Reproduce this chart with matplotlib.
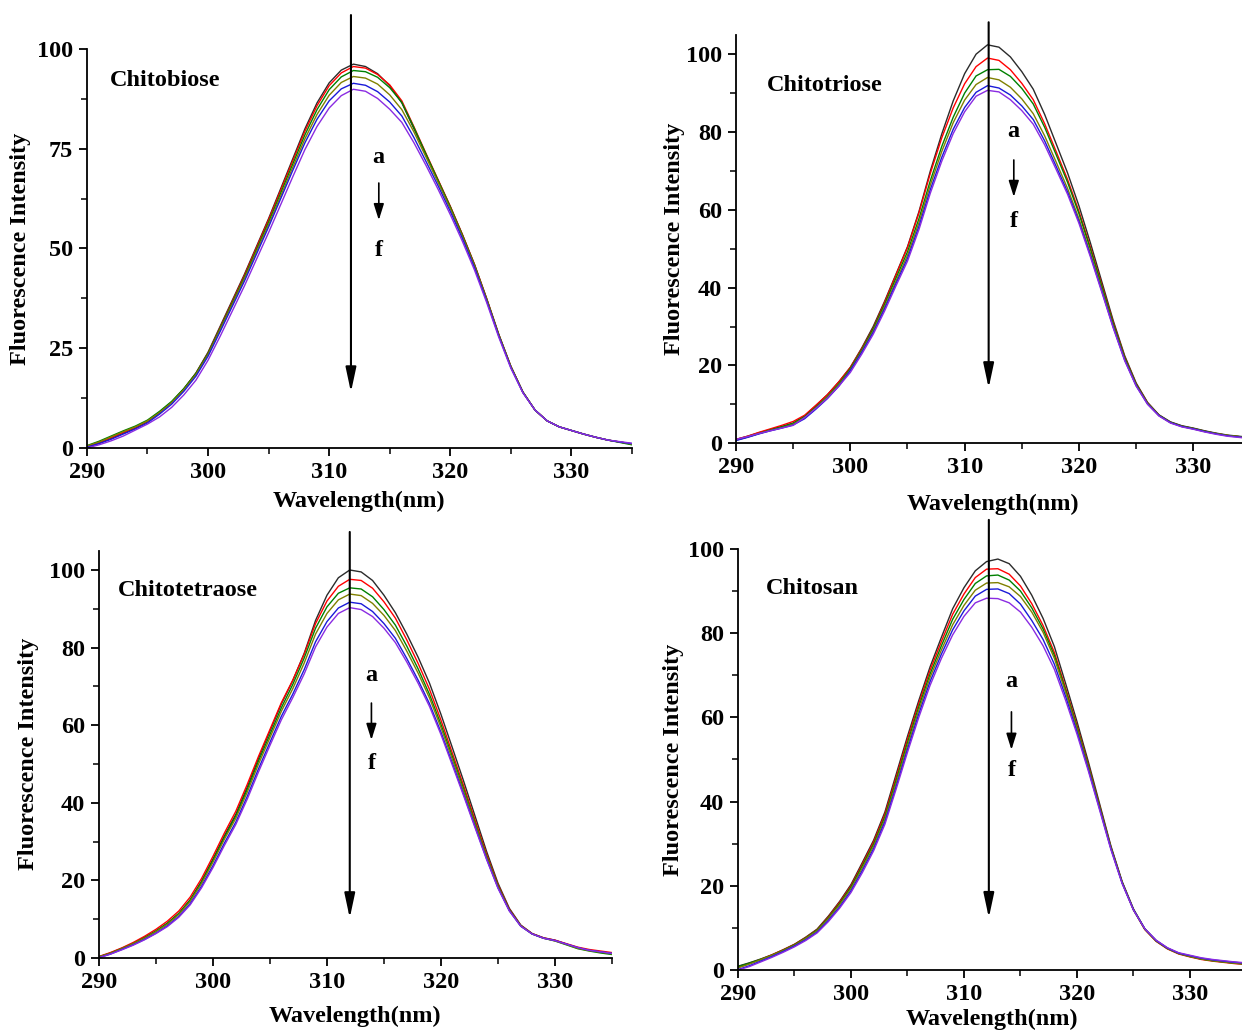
import matplotlib
matplotlib.use("Agg")
import matplotlib.pyplot as plt
from matplotlib.ticker import MultipleLocator

plt.rcParams['font.family'] = ['Liberation Serif', 'DejaVu Serif']
plt.rcParams['font.weight'] = 'bold'

# wavelength grid (nm), one reading per nm
wavelength = list(range(290, 336))

# --- Chitobiose, curves a..f ---
biose_a = [0.3, 1.2, 2.4, 3.7, 5.0, 6.6, 8.8, 11.5, 14.8, 18.8, 24.0, 30.5, 37.0, 43.5, 50.5, 57.5,
           65.0, 72.5, 80.0, 86.5, 91.5, 94.7, 96.2, 95.6, 93.8, 90.8, 86.5, 80.0, 73.5, 67.0, 60.5,
           53.5, 46.0, 37.5, 28.5, 20.5, 14.0, 9.5, 6.8, 5.3, 4.4, 3.5, 2.7, 2.0, 1.5, 1.0]
biose_b = [0.4, 1.4, 2.6, 3.9, 5.2, 6.8, 9.0, 11.5, 14.8, 18.7, 23.8, 30.2, 36.7, 43.2, 50.2, 57.2,
           64.6, 72.0, 79.4, 85.8, 90.8, 94.0, 95.6, 95.2, 93.6, 91.0, 87.0, 80.5, 73.8, 67.2, 60.6,
           53.5, 46.0, 37.5, 28.5, 20.5, 14.0, 9.5, 6.8, 5.3, 4.4, 3.5, 2.7, 2.0, 1.5, 1.0]
biose_c = [0.6, 1.7, 3.0, 4.3, 5.5, 7.0, 9.2, 11.7, 14.9, 18.7, 23.7, 30.0, 36.4, 42.8, 49.7, 56.6,
           63.9, 71.2, 78.5, 84.8, 89.8, 93.0, 94.6, 94.3, 92.9, 90.3, 86.6, 80.3, 73.6, 67.0, 60.4,
           53.3, 45.8, 37.3, 28.4, 20.4, 14.0, 9.5, 6.8, 5.3, 4.4, 3.5, 2.7, 2.0, 1.4, 0.8]
biose_d = [0.5, 1.5, 2.8, 4.1, 5.3, 6.8, 8.9, 11.4, 14.6, 18.4, 23.4, 29.7, 36.0, 42.4, 49.2, 56.0,
           63.2, 70.4, 77.5, 83.6, 88.4, 91.6, 93.1, 92.7, 91.2, 88.5, 84.8, 79.2, 72.9, 66.5, 60.0,
           53.0, 45.6, 37.2, 28.3, 20.4, 14.0, 9.5, 6.8, 5.3, 4.4, 3.5, 2.7, 2.0, 1.5, 1.0]
biose_e = [0.2, 1.1, 2.2, 3.5, 4.8, 6.3, 8.5, 11.0, 14.2, 18.0, 23.0, 29.2, 35.5, 41.8, 48.6, 55.4,
           62.5, 69.6, 76.5, 82.4, 87.0, 90.0, 91.4, 90.9, 89.3, 86.7, 83.2, 77.8, 71.8, 65.7, 59.3,
           52.5, 45.2, 36.9, 28.1, 20.2, 13.9, 9.5, 6.8, 5.3, 4.4, 3.5, 2.7, 2.0, 1.5, 1.1]
biose_f = [0.0, 0.8, 1.8, 3.0, 4.5, 6.0, 7.8, 10.2, 13.3, 17.0, 22.0, 28.0, 34.3, 40.6, 47.3, 54.0,
           61.0, 68.0, 74.8, 80.6, 85.2, 88.3, 89.9, 89.4, 87.6, 84.9, 81.6, 76.5, 70.8, 64.8, 58.5,
           51.8, 44.6, 36.5, 27.8, 20.0, 13.8, 9.5, 6.8, 5.3, 4.4, 3.5, 2.7, 2.0, 1.6, 1.2]

# --- Chitotriose ---
triose_a = [1.0, 1.8, 2.7, 3.5, 4.3, 5.2, 7.0, 9.7, 12.5, 15.8, 19.5, 24.5, 30.0, 36.5, 43.5, 50.5,
            59.5, 70.0, 79.5, 88.0, 95.0, 100.0, 102.4, 101.8, 99.3, 95.5, 91.0, 84.5, 77.0, 69.5,
            61.0, 51.5, 41.5, 31.5, 22.5, 15.5, 10.5, 7.3, 5.5, 4.5, 3.9, 3.2, 2.6, 2.1, 1.8, 1.5]
triose_b = [1.0, 1.8, 2.8, 3.7, 4.6, 5.6, 7.2, 9.8, 12.5, 15.8, 19.5, 24.3, 29.6, 36.2, 43.3, 50.3,
            59.2, 69.4, 78.5, 86.2, 92.4, 96.8, 99.0, 98.4, 96.0, 92.5, 88.3, 82.1, 75.0, 67.8,
            59.6, 50.4, 40.7, 31.0, 22.2, 15.3, 10.4, 7.2, 5.4, 4.4, 3.8, 3.1, 2.5, 2.0, 1.7, 1.4]
triose_c = [0.8, 1.6, 2.5, 3.4, 4.2, 5.1, 6.8, 9.3, 12.0, 15.3, 19.2, 24.0, 29.4, 35.7, 42.5, 49.2,
            57.7, 67.5, 76.3, 83.8, 90.0, 94.4, 96.0, 96.1, 94.3, 91.2, 87.2, 81.2, 74.2, 67.1,
            59.0, 49.9, 40.3, 30.7, 22.0, 15.2, 10.3, 7.2, 5.4, 4.4, 3.8, 3.1, 2.5, 2.0, 1.7, 1.4]
triose_d = [0.8, 1.6, 2.5, 3.3, 4.0, 4.9, 6.6, 9.1, 11.8, 15.0, 18.9, 23.7, 28.9, 35.1, 41.7, 48.3,
            56.7, 66.4, 75.0, 82.4, 88.2, 92.2, 94.0, 93.4, 91.5, 88.5, 84.7, 79.0, 72.3, 65.5,
            57.7, 48.9, 39.5, 30.1, 21.6, 14.9, 10.2, 7.1, 5.3, 4.3, 3.7, 3.0, 2.5, 2.0, 1.7, 1.4]
triose_e = [0.7, 1.5, 2.4, 3.2, 3.9, 4.7, 6.3, 8.8, 11.5, 14.7, 18.7, 23.4, 28.5, 34.6, 41.1, 47.5,
            55.7, 65.2, 73.5, 80.7, 86.3, 90.2, 91.9, 91.3, 89.5, 86.7, 83.2, 77.7, 71.2, 64.6,
            57.0, 48.3, 39.1, 29.8, 21.4, 14.8, 10.1, 7.1, 5.3, 4.3, 3.7, 3.0, 2.4, 1.9, 1.6, 1.3]
triose_f = [1.0, 1.7, 2.5, 3.2, 3.9, 4.6, 6.6, 9.0, 11.6, 14.7, 18.2, 22.9, 28.0, 34.0, 40.5, 46.8,
            54.9, 64.3, 72.5, 79.6, 85.2, 89.2, 90.7, 90.3, 88.3, 85.5, 82.0, 76.7, 70.4, 64.0,
            56.5, 47.9, 38.8, 29.6, 21.2, 14.7, 10.0, 7.0, 5.2, 4.2, 3.6, 2.9, 2.3, 1.8, 1.5, 1.2]

# --- Chitotetraose ---
tetra_a = [0.3, 1.3, 2.5, 3.8, 5.3, 7.0, 9.0, 11.5, 15.0, 19.8, 25.5, 31.5, 37.0, 44.0, 51.5, 58.5,
           65.5, 71.5, 78.5, 87.0, 93.5, 98.0, 100.0, 99.5, 97.3, 93.5, 89.0, 83.5, 77.5, 70.8,
           62.8, 54.2, 45.5, 36.5, 27.5, 19.3, 12.8, 8.5, 6.3, 5.2, 4.6, 3.6, 2.6, 2.0, 1.6, 1.2]
tetra_b = [0.4, 1.4, 2.6, 4.0, 5.6, 7.4, 9.5, 12.1, 15.7, 20.5, 26.2, 32.2, 37.8, 44.7, 52.0, 58.9,
           65.8, 71.6, 78.3, 86.2, 92.0, 95.8, 97.6, 97.3, 95.3, 91.8, 87.6, 82.0, 75.9, 69.2,
           61.3, 52.8, 44.3, 35.5, 26.8, 18.9, 12.6, 8.4, 6.3, 5.2, 4.6, 3.7, 2.8, 2.2, 1.8, 1.4]
tetra_c = [0.3, 1.2, 2.4, 3.7, 5.2, 6.9, 8.9, 11.4, 14.9, 19.6, 25.2, 31.1, 36.6, 43.4, 50.8, 57.6,
           64.5, 70.5, 77.3, 85.0, 90.5, 94.0, 95.4, 95.1, 93.1, 89.8, 85.8, 80.4, 74.5, 67.9,
           60.2, 51.9, 43.5, 34.8, 26.3, 18.6, 12.4, 8.3, 6.2, 5.1, 4.4, 3.4, 2.4, 1.8, 1.3, 0.9]
tetra_d = [0.3, 1.2, 2.4, 3.7, 5.1, 6.8, 8.7, 11.2, 14.6, 19.2, 24.7, 30.6, 36.0, 42.7, 50.0, 56.8,
           63.6, 69.4, 76.0, 83.5, 88.8, 92.3, 93.8, 93.4, 91.4, 88.3, 84.4, 79.1, 73.4, 67.0,
           59.4, 51.2, 42.9, 34.4, 26.0, 18.4, 12.3, 8.3, 6.2, 5.1, 4.4, 3.5, 2.5, 1.9, 1.5, 1.1]
tetra_e = [0.1, 1.0, 2.2, 3.4, 4.8, 6.4, 8.3, 10.7, 14.0, 18.5, 23.8, 29.6, 35.0, 41.6, 48.8, 55.6,
           62.3, 68.0, 74.3, 81.5, 86.7, 90.2, 91.7, 91.3, 89.3, 86.2, 82.4, 77.2, 71.6, 65.5,
           58.2, 50.2, 42.1, 33.8, 25.6, 18.1, 12.2, 8.2, 6.2, 5.1, 4.5, 3.6, 2.7, 2.0, 1.6, 1.2]
tetra_f = [0.1, 1.0, 2.1, 3.3, 4.7, 6.3, 8.1, 10.5, 13.7, 18.1, 23.3, 29.0, 34.4, 40.9, 48.0, 54.8,
           61.4, 67.1, 73.2, 80.2, 85.3, 88.8, 90.3, 89.8, 88.0, 85.0, 81.3, 76.3, 70.8, 64.8,
           57.6, 49.7, 41.7, 33.5, 25.4, 18.0, 12.1, 8.2, 6.2, 5.1, 4.5, 3.6, 2.7, 2.0, 1.6, 1.2]

# --- Chitosan ---
chitosan_a = [0.9, 1.7, 2.6, 3.6, 4.8, 6.1, 7.8, 9.7, 12.8, 16.3, 20.3, 25.5, 30.8, 37.5, 46.5, 55.5,
              64.0, 72.0, 79.0, 85.8, 90.8, 94.8, 97.0, 97.6, 96.5, 93.5, 89.0, 83.5, 76.8, 68.0,
              59.0, 49.5, 39.5, 29.5, 21.0, 14.5, 9.8, 7.0, 5.2, 4.0, 3.3, 2.7, 2.3, 2.0, 1.8, 1.6]
chitosan_b = [0.6, 1.5, 2.5, 3.6, 4.8, 6.1, 7.7, 9.6, 12.6, 16.1, 20.0, 25.1, 30.4, 37.0, 45.8, 54.8,
              63.3, 71.2, 78.0, 84.5, 89.3, 93.2, 95.2, 95.3, 94.0, 91.2, 87.0, 81.8, 75.4, 66.9,
              58.1, 48.8, 39.0, 29.2, 20.8, 14.3, 9.6, 6.8, 5.0, 3.8, 3.1, 2.5, 2.1, 1.8, 1.5, 1.3]
chitosan_c = [0.8, 1.6, 2.5, 3.5, 4.7, 6.0, 7.6, 9.5, 12.4, 15.8, 19.7, 24.7, 29.9, 36.4, 45.1, 54.0,
              62.5, 70.3, 77.0, 83.3, 88.0, 91.8, 93.6, 93.8, 92.6, 90.0, 86.0, 81.0, 74.7, 66.4,
              57.7, 48.5, 38.8, 29.1, 20.8, 14.3, 9.7, 6.9, 5.1, 3.9, 3.2, 2.6, 2.2, 1.9, 1.6, 1.4]
chitosan_d = [0.5, 1.4, 2.4, 3.5, 4.6, 5.9, 7.5, 9.3, 12.2, 15.5, 19.3, 24.2, 29.4, 35.8, 44.4, 53.2,
              61.7, 69.5, 76.0, 82.0, 86.6, 90.2, 91.9, 92.0, 91.0, 88.7, 85.0, 80.2, 74.0, 65.9,
              57.3, 48.2, 38.6, 29.0, 20.7, 14.3, 9.7, 6.9, 5.1, 3.9, 3.2, 2.6, 2.2, 1.9, 1.6, 1.4]
chitosan_e = [0.1, 1.0, 2.1, 3.2, 4.4, 5.7, 7.2, 9.0, 11.8, 15.0, 18.8, 23.6, 28.8, 35.2, 43.6, 52.4,
              60.8, 68.5, 75.0, 80.8, 85.3, 88.8, 90.4, 90.5, 89.4, 86.9, 83.0, 78.5, 72.6, 64.9,
              56.6, 47.7, 38.3, 28.8, 20.6, 14.3, 9.8, 7.0, 5.2, 4.0, 3.4, 2.8, 2.4, 2.1, 1.8, 1.6]
chitosan_f = [0.0, 0.8, 1.9, 3.0, 4.2, 5.5, 7.0, 8.8, 11.5, 14.7, 18.4, 23.1, 28.3, 34.6, 43.0, 51.7,
              60.0, 67.6, 74.0, 79.6, 84.0, 87.2, 88.3, 88.2, 87.2, 85.0, 81.4, 77.0, 71.4, 64.0,
              56.0, 47.3, 38.0, 28.6, 20.5, 14.2, 9.8, 7.1, 5.3, 4.1, 3.5, 2.9, 2.5, 2.2, 1.9, 1.7]

titles = ["Chitobiose", "Chitotriose", "Chitotetraose", "Chitosan"]
colors = ['#2b2b2b', '#ff0000', '#008000', '#808000', '#1a1ad8', '#8a2be2']

fig = plt.figure(figsize=(12.42, 10.33), dpi=100)

# axes boxes in figure fractions (left, bottom, width, height)
ax1 = fig.add_axes([0.0700, 0.5663, 0.4388, 0.3863])
ax2 = fig.add_axes([0.5926, 0.5709, 0.4142, 0.3955])
ax3 = fig.add_axes([0.0797, 0.0726, 0.4130, 0.3944])
ax4 = fig.add_axes([0.5942, 0.0610, 0.4094, 0.4076])

panels = [
    (ax1, [biose_a, biose_b, biose_c, biose_d, biose_e, biose_f], 100, 25),
    (ax2, [triose_a, triose_b, triose_c, triose_d, triose_e, triose_f], 105, 20),
    (ax3, [tetra_a, tetra_b, tetra_c, tetra_d, tetra_e, tetra_f], 105, 20),
    (ax4, [chitosan_a, chitosan_b, chitosan_c, chitosan_d, chitosan_e, chitosan_f], 100, 20),
]

# arrow / label placement in data units per panel
big_arrow = [(311.8, 108.5, 14.0), (312.1, 108.2, 14.2), (312.0, 109.8, 10.3), (312.2, 106.9, 12.4)]
small_arrow = [(314.1, 72.7, 66.4, 57.1, 49.6), (314.3, 80.0, 72.8, 63.3, 56.9),
               (313.9, 72.9, 65.7, 56.2, 50.0), (314.2, 68.4, 61.3, 52.3, 47.3)]
title_pos = [(291.9, 92.2), (292.7, 91.9), (291.7, 94.6), (292.5, 90.5)]
xpad = [6, 11, 9, 3]
ypad = [4, 1, 7.5, 3]

fs = 17.5

for i, (ax, curves, ytop, ystep) in enumerate(panels):
    for y, c in zip(curves, colors):
        ax.plot(wavelength, y, color=c, lw=1.0)

    ax.set_xlim(290, 335)
    ax.set_ylim(0, ytop)
    ax.xaxis.set_major_locator(MultipleLocator(10))
    ax.xaxis.set_minor_locator(MultipleLocator(5))
    ax.yaxis.set_major_locator(MultipleLocator(ystep))
    ax.yaxis.set_minor_locator(MultipleLocator(ystep / 2))
    ax.spines['top'].set_visible(False)
    ax.spines['right'].set_visible(False)
    for s in ['left', 'bottom']:
        ax.spines[s].set_linewidth(1.3)
    ax.tick_params(which='major', direction='out', length=6, width=1.3, labelsize=fs, pad=4)
    ax.tick_params(which='minor', direction='out', length=4, width=1.1)
    for lab in ax.get_xticklabels() + ax.get_yticklabels():
        lab.set_fontweight('bold')

    ax.set_xlabel("Wavelength(nm)", fontsize=fs, fontweight='bold', labelpad=xpad[i])
    ax.set_ylabel("Fluorescence Intensity", fontsize=fs, fontweight='bold', labelpad=ypad[i])

    tx, ty = title_pos[i]
    ax.text(tx, ty, titles[i], fontsize=fs, fontweight='bold', va='center', ha='left')

    bx, by0, by1 = big_arrow[i]
    ax.annotate('', xy=(bx, by1), xytext=(bx, by0), annotation_clip=False,
                arrowprops=dict(arrowstyle='-|>,head_length=0.75,head_width=0.16',
                                color='black', lw=1.5, mutation_scale=20, shrinkA=0, shrinkB=0))

    sx, ya, y0, y1, yf = small_arrow[i]
    ax.text(sx, ya, 'a', fontsize=fs, fontweight='bold', ha='center', va='center')
    ax.text(sx, yf, 'f', fontsize=fs, fontweight='bold', ha='center', va='center')
    ax.annotate('', xy=(sx, y1), xytext=(sx, y0),
                arrowprops=dict(arrowstyle='-|>,head_length=0.7,head_width=0.22',
                                color='black', lw=1.2, mutation_scale=14, shrinkA=0, shrinkB=0))

fig.savefig("out.png", dpi=100)
